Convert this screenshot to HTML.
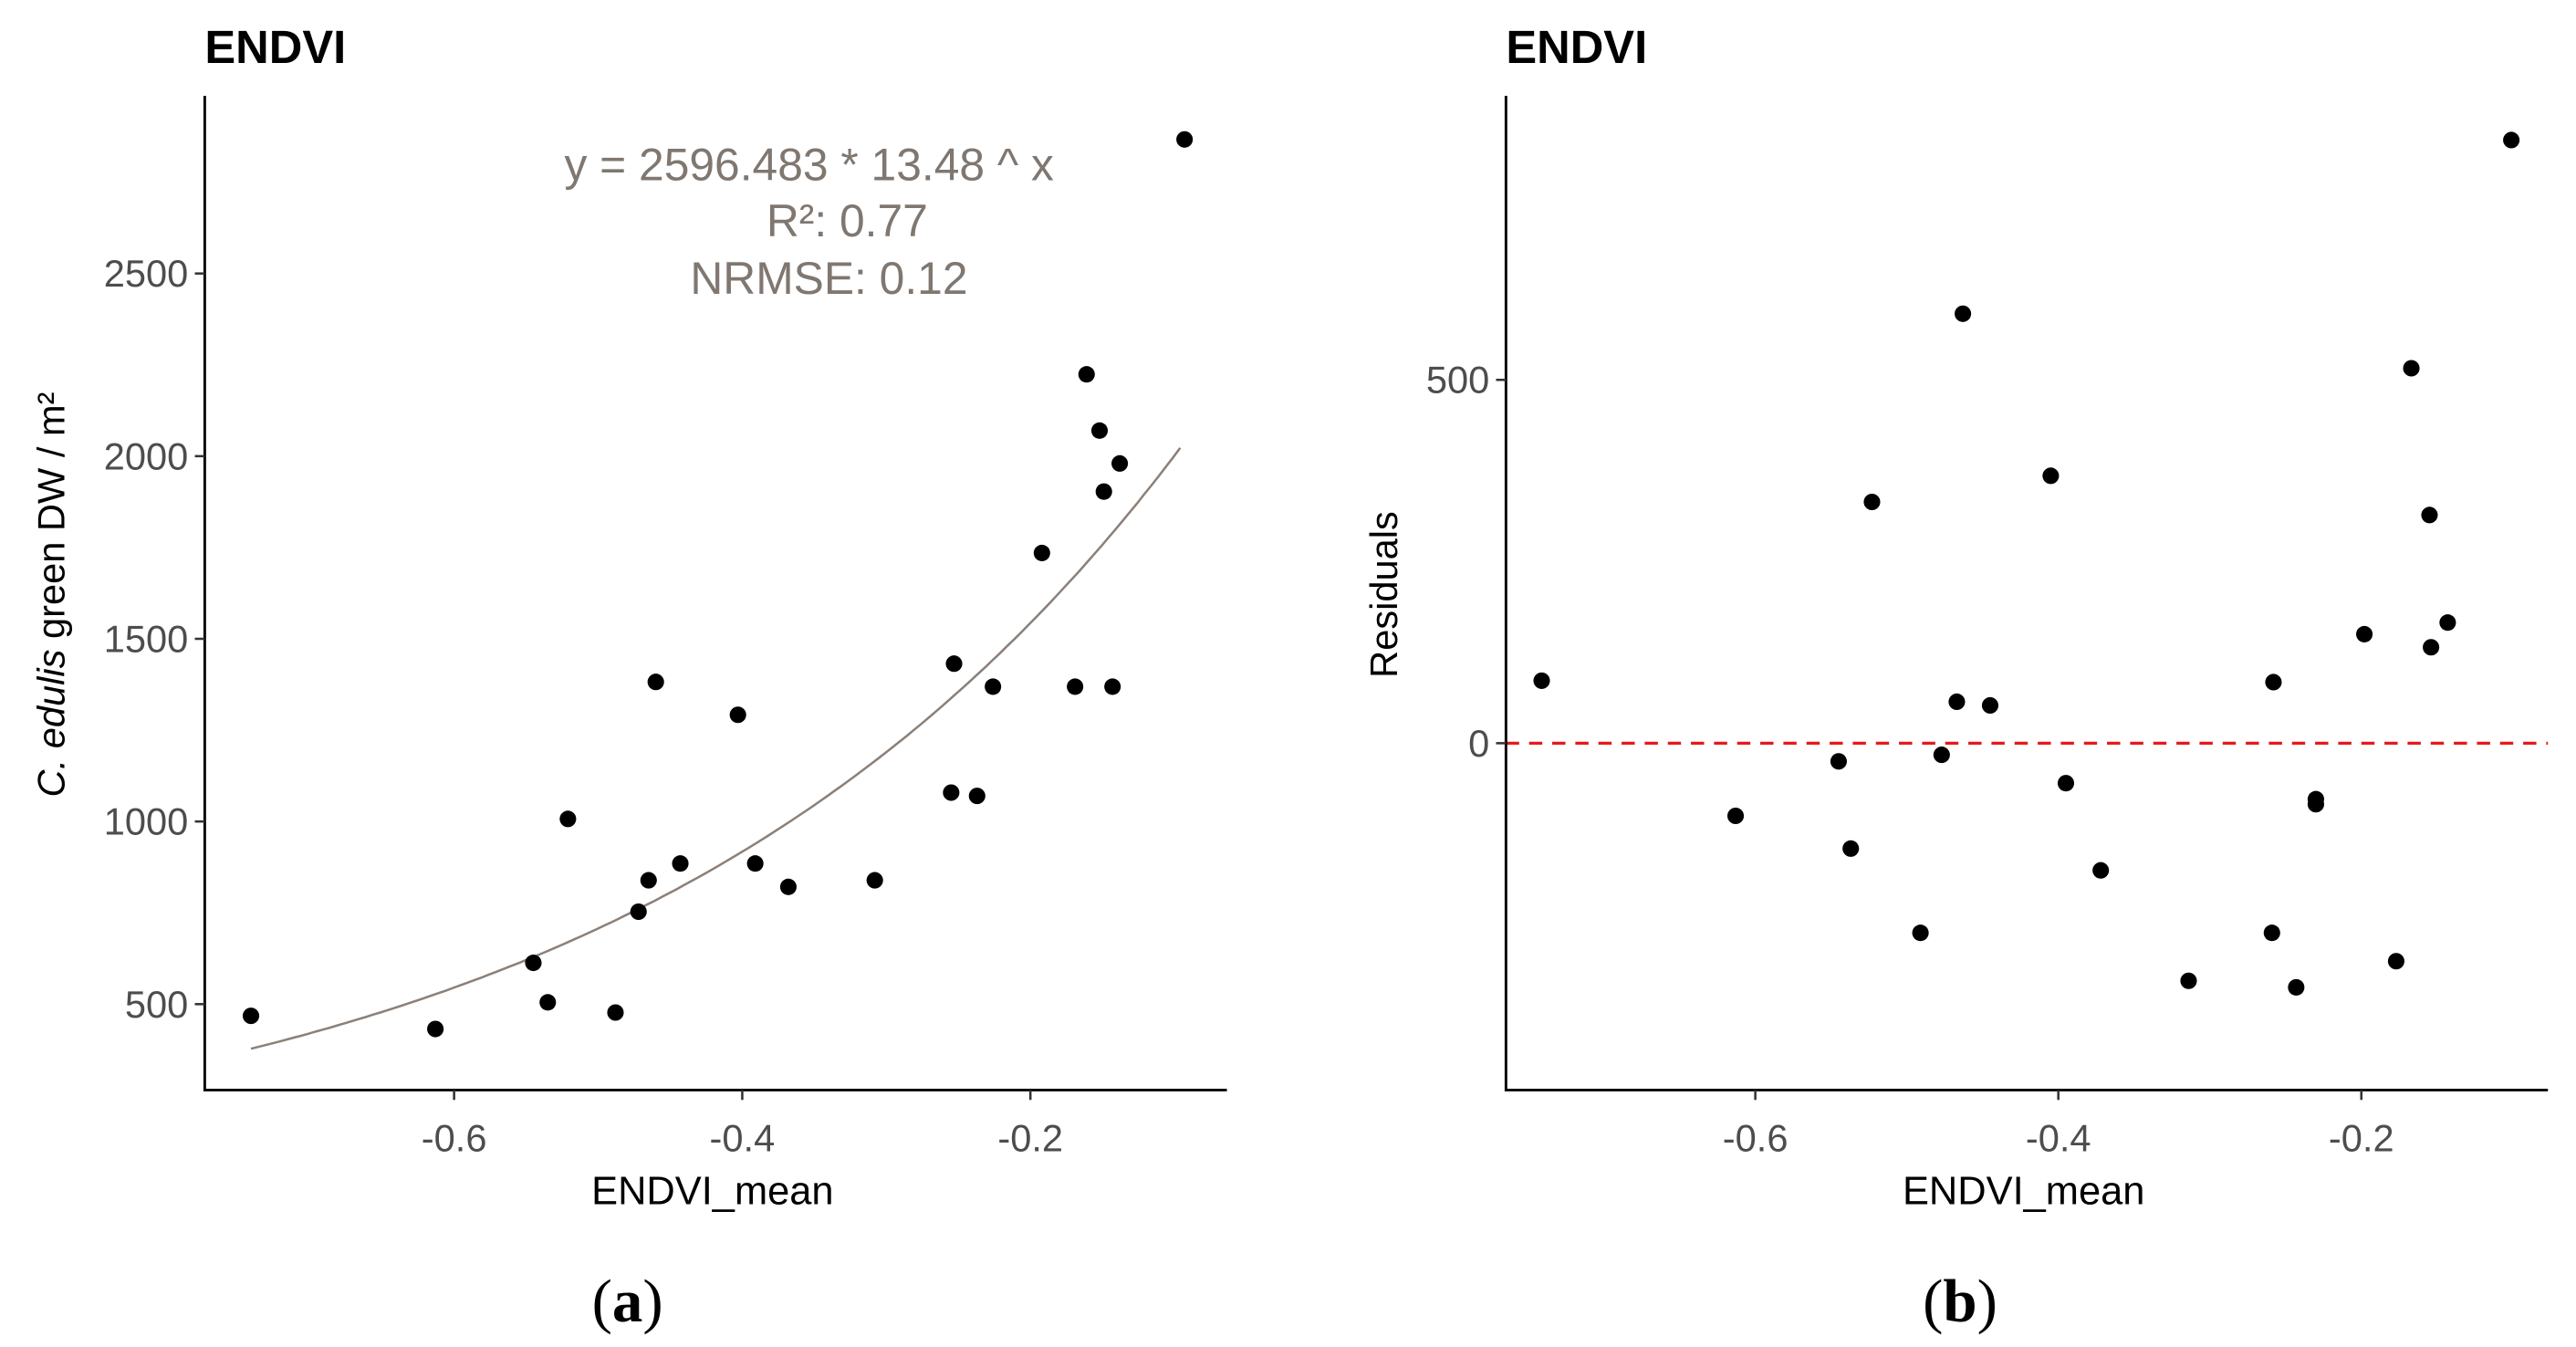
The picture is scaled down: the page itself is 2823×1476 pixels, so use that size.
<!DOCTYPE html>
<html><head><meta charset="utf-8"><style>
html,body{margin:0;padding:0;background:#fff;}
svg{display:block;font-family:"Liberation Sans",sans-serif;}
</style></head><body>
<svg id="fig" width="2823" height="1476" viewBox="0 0 1560 815.6" preserveAspectRatio="none" xmlns="http://www.w3.org/2000/svg">
<g id="pa"></g>
<g id="pb"></g>
</svg>
<script>
const xsA = [-0.741,-0.613,-0.545,-0.535,-0.521,-0.488,-0.472,-0.465,-0.460,-0.443,-0.403,-0.391,-0.368,-0.308,-0.255,-0.253,-0.237,-0.226,-0.192,-0.169,-0.161,-0.152,-0.149,-0.143,-0.138,-0.093];
const ysA = [468,432,613,505,1007,477,753,839,1382,885,1292,885,821,839,1079,1432,1070,1369,1735,1369,2224,2070,1903,1369,1980,2867];
const xsB = [-0.741,-0.613,-0.545,-0.537,-0.523,-0.491,-0.477,-0.467,-0.463,-0.445,-0.405,-0.395,-0.372,-0.314,-0.258,-0.259,-0.243,-0.230,-0.230,-0.198,-0.177,-0.167,-0.155,-0.154,-0.143,-0.101];
const ysB = [86,-100,-25,-145,332,-261,-16,57,591,52,368,-55,-175,-327,84,-261,-336,-77,-84,150,-300,516,314,132,166,830];
const xTicks = [-0.6,-0.4,-0.2];
const yTicksA = [500,1000,1500,2000,2500];
const yTicksB = [0,500];
const fitA = 2596.483, fitB = 13.48;

const NS="http://www.w3.org/2000/svg";
function mk(parent,tag,attrs,text){const e=document.createElementNS(NS,tag);for(const k in attrs)e.setAttribute(k,attrs[k]);if(text!==undefined)e.textContent=text;parent.appendChild(e);return e;}

const axA = v => 275 + (v + 0.6) * 872.5;
const ayA = v => 608 - (v - 500) * 0.2212;
const axB = v => 1063 + (v + 0.6) * 917.5;
const ayB = v => 450 - v * 0.44;

function panel(g, x0, x1, ax, ay, yTicks, xs, ys, tag){
  let t=mk(g,'text',{x:x0,y:38,'font-size':28,'font-weight':'bold',fill:'#000'},'ENDVI');
  
  
  let a=mk(g,'path',{d:`M${x0},58 V660 H${x1}`,stroke:'#000','stroke-width':1.6,fill:'none'});
  
  
  xTicks.forEach(v=>{
    const x=ax(v);
    mk(g,'line',{x1:x,x2:x,y1:660,y2:666,stroke:'#333','stroke-width':1.4});
    let l=mk(g,'text',{x:x,y:697,'font-size':23,fill:'#4d4d4d','text-anchor':'middle'},String(v));
    
    
  });
  yTicks.forEach(v=>{
    const y=ay(v);
    mk(g,'line',{x1:x0-6,x2:x0,y1:y,y2:y,stroke:'#333','stroke-width':1.4});
    let l=mk(g,'text',{x:x0-10,y:y+8,'font-size':23,fill:'#4d4d4d','text-anchor':'end'},String(v));
    
    
  });
  let xt=mk(g,'text',{x:(x0+x1)/2-2,y:729,'font-size':24,fill:'#000','text-anchor':'middle'},'ENDVI_mean');
  
  
  xs.forEach((v,i)=>{
    let c=mk(g,'circle',{cx:ax(v),cy:ay(ys[i]),r:5,fill:'#000'});
    
    
  });
}

const ga=document.getElementById('pa');
let pts=[];
for(let x=-0.741;x<=-0.0925;x+=0.005){pts.push(axA(x).toFixed(1)+','+ayA(fitA*Math.pow(fitB,x)).toFixed(1));}
let cv=mk(ga,'polyline',{points:pts.join(' '),fill:'none',stroke:'#8c8078','stroke-width':1.4});


panel(ga,124,743,axA,ayA,yTicksA,xsA,ysA,'a');
let yl=mk(ga,'text',{transform:'translate(39,360) rotate(-90)','font-size':23,fill:'#000','text-anchor':'middle'});


mk(yl,'tspan',{'font-style':'italic'},'C. edulis');
mk(yl,'tspan',{},' green DW / m²');
[['y = 2596.483 * 13.48 ^ x',490,109],['R²: 0.77',513,143],['NRMSE: 0.12',502,178]].forEach(s=>{
  let e=mk(ga,'text',{x:s[1],y:s[2],'font-size':27.5,fill:'#7f7770','text-anchor':'middle'},s[0]);
  
  
});

const gb=document.getElementById('pb');
let z=mk(gb,'line',{x1:912,x2:1543,y1:ayB(0),y2:ayB(0),stroke:'#e8191a','stroke-width':1.8,'stroke-dasharray':'8,6'});


panel(gb,912,1543,axB,ayB,yTicksB,xsB,ysB,'b');
let yr=mk(gb,'text',{transform:'translate(846,360) rotate(-90)','font-size':23,fill:'#000','text-anchor':'middle'},'Residuals');



const fig=document.getElementById('fig');
[['a',380],['b',1187]].forEach(s=>{
  let e=mk(fig,'text',{x:s[1],y:800,'font-size':37,'font-family':'"Liberation Serif",serif','text-anchor':'middle',fill:'#000'});
  
  
  mk(e,'tspan',{},'(');
  mk(e,'tspan',{'font-weight':'bold'},s[0]);
  mk(e,'tspan',{},')');
});
</script>
</body></html>
